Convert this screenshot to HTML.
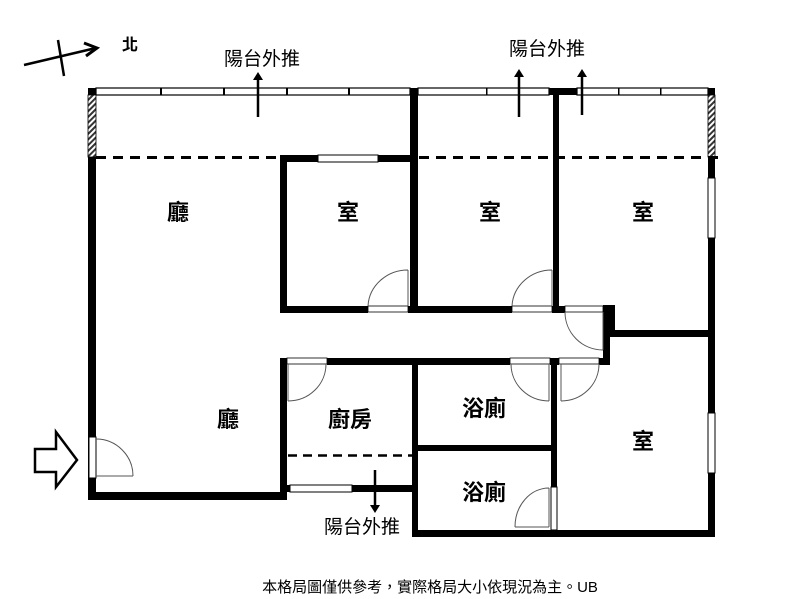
<!DOCTYPE html>
<html><head><meta charset="utf-8"><style>
html,body{margin:0;padding:0;background:#fff;}
svg{display:block;}
text{font-family:"Liberation Sans","Noto Sans CJK TC",sans-serif;fill:#000;}
.lb{font-size:22px;font-weight:bold;text-anchor:middle;}
</style></head><body>
<svg width="800" height="599" viewBox="0 0 800 599" xmlns="http://www.w3.org/2000/svg">
<defs>
<pattern id="h" width="4" height="4" patternUnits="userSpaceOnUse" patternTransform="rotate(45)">
<rect width="4" height="4" fill="#fff"/><rect width="2" height="4" fill="#333"/></pattern>
</defs>
<!-- top windows -->
<rect x="96" y="88" width="314" height="7" fill="#fff" stroke="#000" stroke-width="1.2"/>
<rect x="418" y="88" width="131" height="7" fill="#fff" stroke="#000" stroke-width="1.2"/>
<rect x="577" y="88" width="131" height="7" fill="#fff" stroke="#000" stroke-width="1.2"/>
<g fill="#000">
<rect x="160" y="88" width="2" height="7"/><rect x="223" y="88" width="2" height="7"/><rect x="286" y="88" width="2" height="7"/><rect x="348" y="88" width="2" height="7"/>
<rect x="486" y="88" width="1.5" height="7"/><rect x="618" y="88" width="1.5" height="7"/><rect x="660" y="88" width="1.5" height="7"/>
<rect x="88" y="88" width="8" height="7"/>
<rect x="410" y="88" width="8" height="7"/>
<rect x="549" y="88" width="28" height="7"/>
<rect x="708" y="88" width="7" height="7"/>
</g>
<rect x="88" y="95" width="8" height="62" fill="url(#h)" stroke="#000" stroke-width="0.8"/>
<rect x="708" y="95" width="7" height="62" fill="url(#h)" stroke="#000" stroke-width="0.8"/>
<!-- dashed -->
<line x1="96" y1="157.5" x2="722" y2="157.5" stroke="#000" stroke-width="3" stroke-dasharray="10,7"/>
<line x1="288" y1="455.5" x2="412" y2="455.5" stroke="#000" stroke-width="2.5" stroke-dasharray="9,6"/>
<g fill="#000">
<!-- left wall -->
<rect x="88" y="157" width="8" height="343"/>
<rect x="88" y="492" width="199" height="8"/>
<!-- room1 -->
<rect x="280" y="155" width="7" height="158"/>
<rect x="280" y="155" width="138" height="7"/>
<rect x="410" y="88" width="8" height="225"/>
<rect x="280" y="306" width="88" height="7"/>
<rect x="408" y="306" width="10" height="7"/>
<!-- room2 -->
<rect x="553" y="88" width="6" height="225"/>
<rect x="418" y="306" width="94" height="7"/>
<rect x="552" y="306" width="13" height="7"/>
<!-- right -->
<rect x="708" y="157" width="7" height="21"/>
<rect x="708" y="238" width="7" height="99"/>
<rect x="608" y="305" width="7" height="32"/>
<rect x="608" y="330" width="107" height="7"/>
<rect x="708" y="330" width="7" height="83"/>
<rect x="708" y="473" width="7" height="64"/>
<rect x="603" y="305" width="7" height="59"/>
<!-- lower -->
<rect x="280" y="358" width="7" height="142"/>
<rect x="327" y="358" width="183" height="7"/>
<rect x="550" y="358" width="9" height="7"/>
<rect x="599" y="358" width="11" height="7"/>
<rect x="412" y="358" width="6" height="179"/>
<rect x="412" y="445" width="145" height="6"/>
<rect x="551" y="358" width="6" height="129"/>
<rect x="412" y="530" width="303" height="7"/>
<rect x="352" y="485" width="66" height="7"/>
<rect x="280" y="485" width="10" height="7"/>
</g>
<!-- windows others -->
<rect x="318" y="155" width="60" height="7" fill="#fff" stroke="#000" stroke-width="1"/>
<rect x="708" y="178" width="7" height="60" fill="#fff" stroke="#000" stroke-width="1"/>
<rect x="708" y="413" width="7" height="60" fill="#fff" stroke="#000" stroke-width="1"/>
<rect x="290" y="485" width="62" height="7" fill="#fff" stroke="#000" stroke-width="1"/>
<rect x="89" y="437" width="7" height="41" fill="#fff" stroke="#000" stroke-width="1"/>
<rect x="551" y="487" width="6" height="43" fill="#fff" stroke="#000" stroke-width="1"/>
<!-- door openings sills -->
<g fill="#fff" stroke="#000" stroke-width="0.8">
<rect x="368" y="306" width="40" height="6"/>
<rect x="512" y="306" width="40" height="6"/>
<rect x="565" y="306" width="38" height="6"/>
<rect x="287" y="358" width="40" height="6"/>
<rect x="510" y="358" width="40" height="6"/>
<rect x="559" y="358" width="40" height="6"/>
</g>
<!-- door arcs -->
<g fill="none" stroke="#555" stroke-width="1">
<path d="M408 270 V306 M368 306 A40 38 0 0 1 408 270"/>
<path d="M552 270 V306 M512 306 A40 38 0 0 1 552 270"/>
<path d="M603 312 V350 M565 312 A38 38 0 0 0 603 350"/>
<path d="M288 364 V401 M326 364 A38 37 0 0 1 288 401"/>
<path d="M549 364 V401 M511 364 A38 37 0 0 0 549 401"/>
<path d="M561 364 V401 M599 364 A38 37 0 0 1 561 401"/>
<path d="M549 488 V527 M515 527 A34 39 0 0 1 549 488 M515 527 H549"/>
<path d="M96 476 H133 M96 439 A37 37 0 0 1 133 476"/>
</g>
<!-- entry arrow -->
<polygon points="35,449 56,449 56,432 77,460 56,487 56,472 35,472" fill="#fff" stroke="#000" stroke-width="2.5"/>
<!-- balcony arrows -->
<g stroke="#000" stroke-width="2.5" fill="#000">
<line x1="258" y1="117" x2="258" y2="80"/><polygon points="253,80 263,80 258,72" stroke="none"/>
<line x1="519" y1="117" x2="519" y2="77"/><polygon points="514,77 524,77 519,69" stroke="none"/>
<line x1="582" y1="115" x2="582" y2="77"/><polygon points="577,77 587,77 582,69" stroke="none"/>
<line x1="375" y1="470" x2="375" y2="505"/><polygon points="370,505 380,505 375,513" stroke="none"/>
<!-- north -->
<line x1="24" y1="65" x2="96" y2="48"/>
<line x1="58" y1="40" x2="64" y2="76"/>
</g>
<path d="M84 43 L97 48 L86 56" fill="none" stroke="#000" stroke-width="3"/>
<text x="130" y="50" font-size="16" font-weight="bold" text-anchor="middle">北</text>
<text x="262" y="65" font-size="19" text-anchor="middle">陽台外推</text>
<text x="547" y="55" font-size="19" text-anchor="middle">陽台外推</text>
<text x="362" y="533" font-size="19" text-anchor="middle">陽台外推</text>
<text class="lb" x="178" y="220">廳</text>
<text class="lb" x="348" y="220">室</text>
<text class="lb" x="490" y="220">室</text>
<text class="lb" x="643" y="220">室</text>
<text class="lb" x="228" y="427">廳</text>
<text class="lb" x="350" y="427">廚房</text>
<text class="lb" x="484" y="416">浴廁</text>
<text class="lb" x="484" y="500">浴廁</text>
<text class="lb" x="643" y="449">室</text>
<text x="430" y="592" font-size="15" text-anchor="middle">本格局圖僅供參考，實際格局大小依現況為主。UB</text>
</svg>
</body></html>
